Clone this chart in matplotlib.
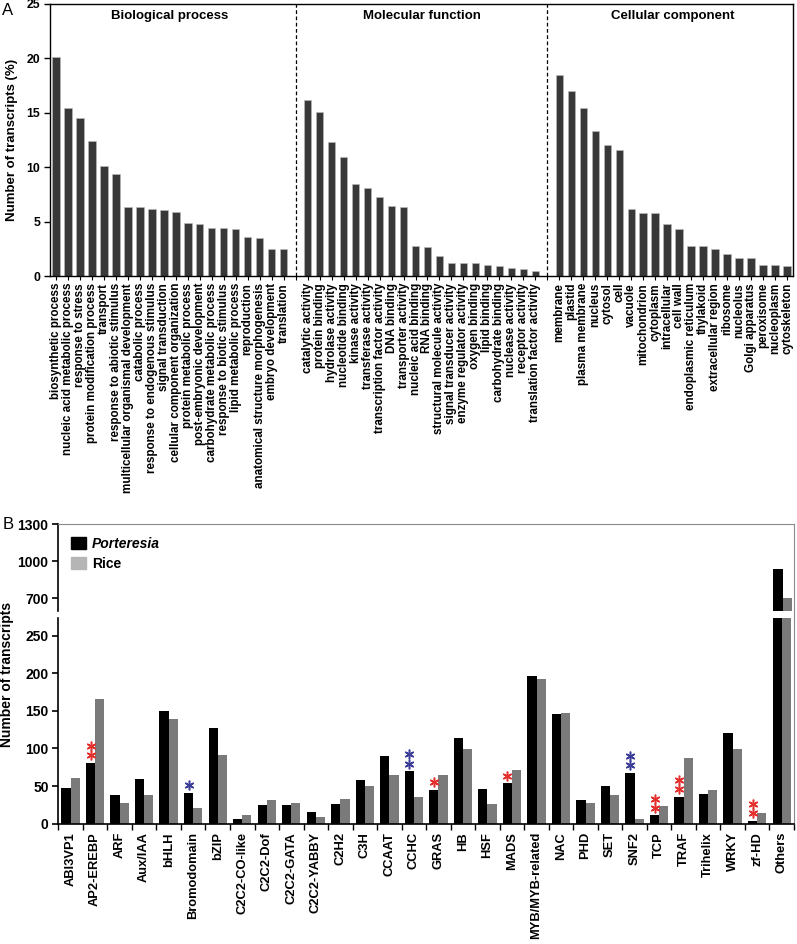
import numpy as np
import matplotlib
matplotlib.use("Agg")
import matplotlib.pyplot as plt
from matplotlib.patches import Patch
from matplotlib.lines import Line2D

plt.rcParams['font.family'] = ['Liberation Sans', 'DejaVu Sans']

# ---- panel A: GO categories (% of transcripts)
bio_terms = ['biosynthetic process', 'nucleic acid metabolic process', 'response to stress',
             'protein modification process', 'transport', 'response to abiotic stimulus',
             'multicellular organismal development', 'catabolic process',
             'response to endogenous stimulus', 'signal transduction',
             'cellular component organization', 'protein metabolic process',
             'post-embryonic development', 'carbohydrate metabolic process',
             'response to biotic stimulus', 'lipid metabolic process', 'reproduction',
             'anatomical structure morphogenesis', 'embryo development', 'translation']
bio_vals = [20.1, 15.4, 14.5, 12.4, 10.1, 9.4, 6.3, 6.3, 6.2, 6.05,
            5.9, 4.9, 4.8, 4.4, 4.4, 4.3, 3.6, 3.5, 2.5, 2.5]

mol_terms = ['catalytic activity', 'protein binding', 'hydrolase activity', 'nucleotide binding',
             'kinase activity', 'transferase activity', 'transcription factor activity',
             'DNA binding', 'transporter activity', 'nucleic acid binding', 'RNA binding',
             'structural molecule activity', 'signal transducer activity',
             'enzyme regulator activity', 'oxygen binding', 'lipid binding',
             'carbohydrate binding', 'nuclease activity', 'receptor activity',
             'translation factor activity']
mol_vals = [16.2, 15.1, 12.3, 10.9, 8.5, 8.1, 7.3, 6.4, 6.3, 2.8,
            2.65, 1.85, 1.2, 1.2, 1.17, 1.05, 0.9, 0.75, 0.6, 0.47]

cel_terms = ['membrane', 'plastid', 'plasma membrane', 'nucleus', 'cytosol', 'cell', 'vacuole',
             'mitochondrion', 'cytoplasm', 'intracellular', 'cell wall', 'endoplasmic reticulum',
             'thylakoid', 'extracellular region', 'ribosome', 'nucleolus', 'Golgi apparatus',
             'peroxisome', 'nucleoplasm', 'cytoskeleton']
cel_vals = [18.45, 17.0, 15.4, 13.3, 12.0, 11.6, 6.2, 5.8, 5.8, 4.8,
            4.3, 2.8, 2.8, 2.5, 2.0, 1.7, 1.7, 1.0, 1.0, 0.9]

group_titles = ['Biological process', 'Molecular function', 'Cellular component']

# ---- panel B: transcription factor families
tf_families = ['ABI3VP1', 'AP2-EREBP', 'ARF', 'Aux/IAA', 'bHLH', 'Bromodomain', 'bZIP',
               'C2C2-CO-like', 'C2C2-Dof', 'C2C2-GATA', 'C2C2-YABBY', 'C2H2', 'C3H', 'CCAAT',
               'CCHC', 'GRAS', 'HB', 'HSF', 'MADS', 'MYB/MYB-related', 'NAC', 'PHD', 'SET',
               'SNF2', 'TCP', 'TRAF', 'Trihelix', 'WRKY', 'zf-HD', 'Others']
porteresia = [48, 81, 38, 60, 150, 41, 127, 6, 25, 25, 16, 26, 58, 90,
              70, 45, 114, 46, 54, 196, 146, 31, 50, 68, 11, 36, 40, 120, 4, 940]
rice = [61, 166, 28, 38, 139, 21, 91, 11, 31, 28, 9, 33, 50, 65,
        36, 65, 99, 26, 71, 193, 147, 28, 38, 6, 24, 88, 45, 99, 14, 705]
# significance stars drawn above the Porteresia bar
star_count = [0, 2, 0, 0, 0, 1, 0, 0, 0, 0, 0, 0, 0, 0,
              2, 1, 0, 0, 1, 0, 0, 0, 0, 2, 2, 2, 0, 0, 2, 0]
star_color = ['', 'red', '', '', '', 'blue', '', '', '', '', '', '', '', '',
              'blue', 'red', '', '', 'red', '', '', '', '', 'blue', 'red', 'red', '', '', 'red', '']

RED = '#e3302d'
BLUE = '#3b3b98'
BAR_A = '#383838'
RICE_C = '#7a7a7a'

fig = plt.figure(figsize=(7.97, 9.44), dpi=100)

# ================= panel A =================
axA = fig.add_axes([0.0627, 0.7076, 0.9323, 0.2882])
labels_A = bio_terms + [''] + mol_terms + [''] + cel_terms
vals_A = bio_vals + [np.nan] + mol_vals + [np.nan] + cel_vals
xA = np.arange(len(labels_A))
axA.bar(xA, vals_A, width=0.62, color=BAR_A, edgecolor='#bdbdbd', linewidth=0.4)
for sep in [len(bio_terms), len(bio_terms) + len(mol_terms) + 1]:
    axA.axvline(sep, color='black', ls=(0, (3, 2)), lw=0.9)
axA.set_xlim(-0.5, len(labels_A) - 0.5)
axA.set_ylim(0, 25)
axA.set_yticks([0, 5, 10, 15, 20, 25])
axA.set_xticks(xA)
axA.set_xticklabels(labels_A, rotation=90, fontsize=8.4, fontweight='bold')
axA.tick_params(axis='x', length=3, width=0.8, pad=2)
axA.tick_params(axis='y', length=4, width=1, labelsize=8.8, pad=3)
for t in axA.get_yticklabels():
    t.set_fontweight('bold')
for s in axA.spines.values():
    s.set_linewidth(1.0)
axA.set_ylabel('Number of transcripts (%)', fontsize=9.5, fontweight='bold', labelpad=6)
group_centers = [(len(bio_terms) - 1) / 2,
                 len(bio_terms) + 1 + (len(mol_terms) - 1) / 2,
                 len(bio_terms) + len(mol_terms) + 2 + (len(cel_terms) - 1) / 2]
for c, title in zip(group_centers, group_titles):
    axA.text(c, 0.955, title, transform=axA.get_xaxis_transform(), ha='center', va='center',
             fontsize=9.5, fontweight='bold')
fig.text(0.003, 0.989, 'A', fontsize=12, va='center', ha='left')

# ================= panel B (broken y axis) =================
left_b, width_b = 0.0732, 0.923
axT = fig.add_axes([left_b, 0.3531, width_b, 0.0915])
axB = fig.add_axes([left_b, 0.1274, width_b, 0.2176])
xB = np.arange(len(tf_families))
bw = 0.375
for ax in (axT, axB):
    ax.bar(xB - bw / 2, porteresia, width=bw, color='black')
    ax.bar(xB + bw / 2, rice, width=bw, color=RICE_C)
    ax.set_xlim(-0.48, len(tf_families) - 0.54)
    ax.spines['right'].set_color('#8a8a8a')
    ax.spines['left'].set_linewidth(1.2)
    ax.tick_params(axis='y', length=4, width=1.2, labelsize=10, pad=3)

axT.set_ylim(600, 1300)
axT.set_yticks([700, 1000, 1300])
for t in axT.get_yticklabels():
    t.set_fontweight('bold')
axT.spines['bottom'].set_visible(False)
axT.spines['top'].set_color('#8a8a8a')
axT.set_xticks([])

axB.set_ylim(0, 273)
axB.set_yticks([0, 50, 100, 150, 200, 250])
for t in axB.get_yticklabels():
    t.set_fontweight('bold')
axB.spines['top'].set_visible(False)
axB.spines['bottom'].set_linewidth(1.2)
axB.set_xticks(xB)
axB.set_xticklabels(tf_families, rotation=90, fontsize=9.3, fontweight='bold')
axB.set_xticks(np.arange(len(tf_families) + 1) - 0.5, minor=True)
axB.tick_params(axis='x', which='major', length=0, pad=6)
axB.tick_params(axis='x', which='minor', length=4, width=1.0)

# right border continues across the gap
fig.add_artist(Line2D([left_b + width_b] * 2, [0.345, 0.3531], transform=fig.transFigure,
                      color='#8a8a8a', lw=0.8))

# significance stars
for i, (n, col) in enumerate(zip(star_count, star_color)):
    for k in range(n):
        axB.plot(xB[i] - bw / 2, porteresia[i] + 10 + 12.5 * k, marker=(6, 2, 0), ms=7,
                 mew=1.1, color=RED if col == 'red' else BLUE)

axT.legend(handles=[Patch(color='black', label='Porteresia'), Patch(color='#b5b5b5', label='Rice')],
           loc='upper left', bbox_to_anchor=(0.0, 1.0), frameon=False, handlelength=1.1,
           handleheight=0.9, handletextpad=0.4, labelspacing=0.45,
           prop={'weight': 'bold', 'size': 10})
leg = axT.get_legend()
leg.get_texts()[0].set_style('italic')

fig.text(0.009, (0.1274 + 0.4446) / 2, 'Number of transcripts', rotation=90, ha='center',
         va='center', fontsize=10, fontweight='bold')
fig.text(0.003, 0.4446, 'B', fontsize=12, va='center', ha='left')

fig.savefig('out.png', dpi=100)
